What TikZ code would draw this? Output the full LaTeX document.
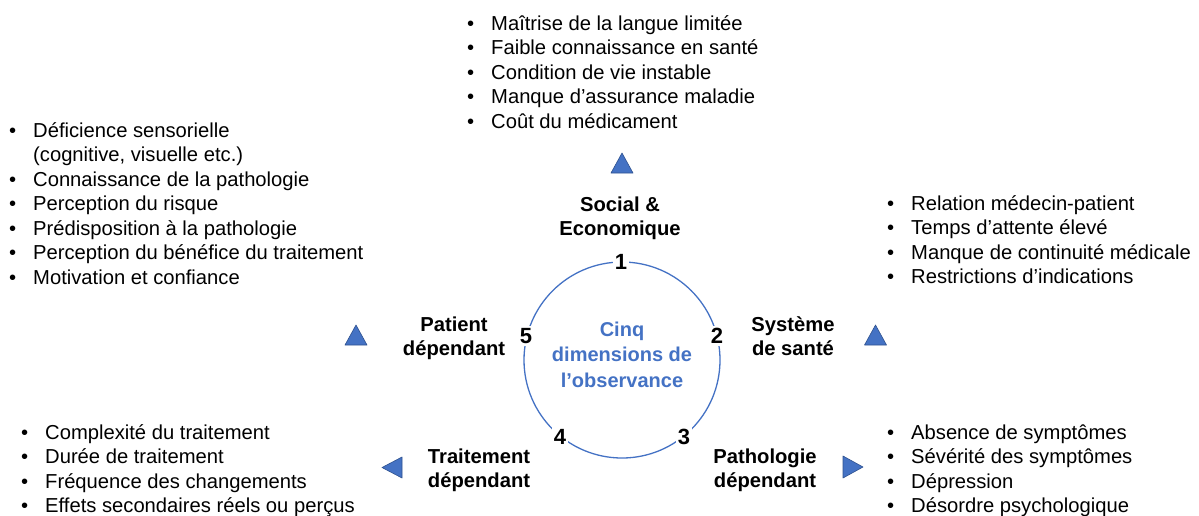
\documentclass[tikz,border=0pt]{standalone}
\usepackage{fontspec}
\setmainfont{Liberation Sans}
\definecolor{obsblue}{HTML}{4472C4}
\definecolor{obsdark}{HTML}{2F528F}
\tikzset{
  lst/.style={anchor=base west, align=left, inner sep=0pt, font=\fontsize{20.2}{24.5}\selectfont},
  lbl/.style={anchor=base, align=center, inner sep=0pt, font=\fontsize{20.2}{24.5}\selectfont\bfseries},
  ctr/.style={anchor=base, align=center, inner sep=0pt, text=obsblue, font=\fontsize{20}{25.5}\selectfont\bfseries},
  num/.style={fill=white, inner sep=2pt, font=\fontsize{22}{24}\selectfont\bfseries},
  tri/.style={fill=obsblue, draw=obsdark, line width=0.6pt, line join=round},
  ring/.style={draw=obsblue, line width=1.3pt},
}
\newcommand\bl{\makebox[24pt][l]{\textbullet}}
\newcommand\ind{\hspace*{24pt}}
\begin{document}
\begin{tikzpicture}[x=1pt,y=-1pt]
\useasboundingbox (0,0) rectangle (1199,515);
% ring
\draw[ring] (622,360) circle[radius=98];
\node[num] (n1) at (621,262) {1};
\node[num] (n2) at (717,336) {2};
\node[num] (n3) at (684,437) {3};
\node[num] (n4) at (560,437) {4};
\node[num] (n5) at (526,336) {5};
\node[ctr] (centre) at (622,387) {Cinq\\dimensions de\\l’observance};
% labels (anchor = baseline of last line)
\node[lbl] (social) at (620,235.5) {Social \&\\Economique};
\node[lbl] (patient) at (454,355.5) {Patient\\dépendant};
\node[lbl] (systeme) at (793,355.5) {Système\\de santé};
\node[lbl] (traitement) at (479,487.5) {Traitement\\dépendant};
\node[lbl] (pathologie) at (765,487.5) {Pathologie\\dépendant};
% triangles
\draw[tri] (622,153) -- (633,173) -- (611,173) -- cycle;
\draw[tri] (356,325) -- (367,345) -- (345,345) -- cycle;
\draw[tri] (875.5,325) -- (886.5,345) -- (864.5,345) -- cycle;
\draw[tri] (382,467.5) -- (402,457) -- (402,478) -- cycle;
\draw[tri] (863,467) -- (843,456) -- (843,478) -- cycle;
% lists (anchor = baseline of last line)
\node[lst] (l1) at (467,128) {\bl Maîtrise de la langue limitée\\\bl Faible connaissance en santé\\\bl Condition de vie instable\\\bl Manque d’assurance maladie\\\bl Coût du médicament};
\node[lst] (l5) at (9,284) {\bl Déficience sensorielle\\\ind (cognitive, visuelle etc.)\\\bl Connaissance de la pathologie\\\bl Perception du risque\\\bl Prédisposition à la pathologie\\\bl Perception du bénéfice du traitement\\\bl Motivation et confiance};
\node[lst] (l2) at (887,283.5) {\bl Relation médecin-patient\\\bl Temps d’attente élevé\\\bl Manque de continuité médicale\\\bl Restrictions d’indications};
\node[lst] (l4) at (21,512.5) {\bl Complexité du traitement\\\bl Durée de traitement\\\bl Fréquence des changements\\\bl Effets secondaires réels ou perçus};
\node[lst] (l3) at (887,512.5) {\bl Absence de symptômes\\\bl Sévérité des symptômes\\\bl Dépression\\\bl Désordre psychologique};
\end{tikzpicture}
\end{document}
